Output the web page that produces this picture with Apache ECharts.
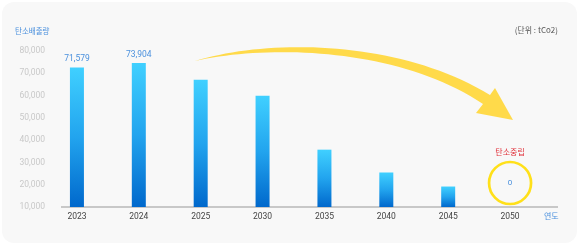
<!DOCTYPE html>
<html><head><meta charset="utf-8">
<script src="https://cdn.jsdelivr.net/npm/echarts@6/dist/echarts.min.js"></script>
<style>
html,body{margin:0;padding:0;background:#fff;}
#card{position:absolute;left:2px;top:2px;width:575px;height:241px;border-radius:12px;background:#f8f8f8;}
#c{position:absolute;left:0;top:0;width:580px;height:245px;}
</style></head>
<body><div id="card"></div><div id="c"></div>
<script>
const years = ['2023', '2024', '2025', '2030', '2035', '2040', '2045', '2050'];
const emissions = [71579, 73904, 65300, 57100, 29400, 17700, 10500, 0];
const labelledIdx = [0, 1];
const netZeroIdx = 7;
const netZeroText = '탄소중립';
const titleText = '탄소배출량';
const unitText = '(단위 : tCo2)';
const xName = '연도';
const tickMin = 10000, tickMax = 80000, tickStep = 10000;

const FONT = 'Roboto, "Noto Sans CJK KR", sans-serif';
const KFONT = '"Noto Sans CJK KR", Roboto, sans-serif';
const chart = echarts.init(document.getElementById('c'), null, {renderer: 'canvas'});

// decorative arrow outline (cubic bezier sampled into a polygon)
function cubic(p0, p1, p2, p3, n) {
  const pts = [];
  for (let k = 0; k <= n; k++) {
    const t = k / n, u = 1 - t;
    pts.push([u*u*u*p0[0] + 3*u*u*t*p1[0] + 3*u*t*t*p2[0] + t*t*t*p3[0],
              u*u*u*p0[1] + 3*u*u*t*p1[1] + 3*u*t*t*p2[1] + t*t*t*p3[1]]);
  }
  return pts;
}
const arrowPts = [].concat(
  cubic([195, 61], [270, 38], [400, 40], [490, 95], 40),
  [[495, 88], [513, 120], [476, 113]],
  cubic([483, 104], [400, 48], [270, 44], [195, 61], 40)
);

const barData = emissions.map((v, i) => {
  const item = {value: v};
  if (labelledIdx.includes(i)) {
    item.label = {show: true, position: 'top', distance: 4, color: '#4a90dd', fontSize: 8.5, fontFamily: FONT,
      formatter: p => p.value.toLocaleString('en-US')};
  } else if (i === netZeroIdx) {
    item.label = {show: true, position: 'top', distance: 3,
      formatter: p => '{t|' + netZeroText + '}\n{c|' + p.value + '}',
      rich: {
        t: {color: '#e0303a', fontSize: 8, fontFamily: KFONT, lineHeight: 20, align: 'center'},
        c: {color: '#4a90dd', fontSize: 8, fontFamily: FONT, width: 42, height: 42, lineHeight: 42,
            borderRadius: 22, borderWidth: 2.7, borderColor: '#ffe01a', align: 'center'}
      }};
  }
  return item;
});

chart.setOption({
  animation: false,
  title: [
    {text: titleText, left: 15, top: 27, padding: 0, textStyle: {fontSize: 7.5, color: '#4a90dd', fontWeight: 'normal', fontFamily: KFONT}},
    {text: unitText, right: 22, top: 26, padding: 0, textStyle: {fontSize: 8, color: '#555', fontWeight: 'normal', fontFamily: KFONT}}
  ],
  grid: {left: 46, right: 39, top: 51, bottom: 38},
  xAxis: {
    type: 'category', data: years,
    axisLine: {show: false}, axisTick: {show: false},
    axisLabel: {color: '#444', fontSize: 8.5, fontFamily: FONT, margin: 6},
    name: xName, nameLocation: 'end', nameGap: 3,
    nameTextStyle: {color: '#4a90dd', fontSize: 8, fontFamily: KFONT, verticalAlign: 'top', padding: [5, 0, 0, 0]}
  },
  yAxis: [
    {type: 'value', min: tickMin, max: tickMax, interval: tickStep,
     axisLine: {show: false}, axisTick: {show: false}, splitLine: {show: false},
     axisLabel: {color: '#c8c8c8', fontSize: 8.5, fontFamily: FONT, margin: 1, formatter: v => v.toLocaleString('en-US')}},
    {type: 'value', min: 0, max: tickMax, show: false, splitLine: {show: false}}
  ],
  graphic: [
    {type: 'line', z: 0, shape: {x1: 61, y1: 207, x2: 558, y2: 207}, style: {stroke: '#c8c8c8', lineWidth: 2}},
    {type: 'polygon', z: 5, shape: {points: arrowPts}, style: {fill: '#ffda4a'}}
  ],
  series: [{
    type: 'bar', yAxisIndex: 1, barWidth: 14, z: 3,
    itemStyle: {color: new echarts.graphic.LinearGradient(0, 0, 0, 1, [
      {offset: 0, color: '#40d0ff'}, {offset: 0.5, color: '#22a4ee'}, {offset: 1, color: '#0068cc'}])},
    data: barData
  }]
});
</script></body></html>
